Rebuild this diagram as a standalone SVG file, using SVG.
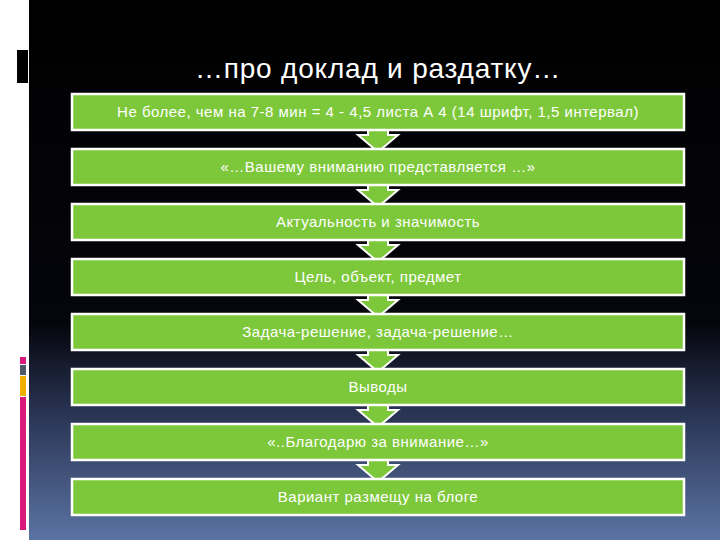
<svg xmlns="http://www.w3.org/2000/svg" width="720" height="540" viewBox="0 0 720 540">
<defs>
<linearGradient id="bg" x1="0" y1="0" x2="0" y2="1">
<stop offset="0" stop-color="#000"/>
<stop offset="0.6" stop-color="#05060c"/>
<stop offset="0.75" stop-color="#26304e"/>
<stop offset="1" stop-color="#5b73a3"/>
</linearGradient>
<style>
.box{fill:#7dc83a;stroke:#fff;stroke-width:2.5}
.t{font-family:"Liberation Sans",Arial,sans-serif;font-size:15px;letter-spacing:0.5px;fill:#fff;text-anchor:middle}
.ar{fill:#7dc83a;stroke:#fff;stroke-width:2}
</style>
</defs>
<rect width="720" height="540" fill="#fff"/>
<rect x="29" y="0" width="691" height="540" fill="url(#bg)"/>
<rect x="17" y="50" width="11" height="33" fill="#000"/>
<rect x="20" y="357" width="6" height="7" fill="#d81b7a"/>
<rect x="20" y="365" width="6" height="10" fill="#4e5a6a"/>
<rect x="20" y="376" width="6" height="20" fill="#f0b000"/>
<rect x="20" y="397" width="6" height="133" fill="#d81b7a"/>
<text x="378" y="78" font-family="Liberation Sans,Arial,sans-serif" font-size="28" letter-spacing="0.8" fill="#fff" text-anchor="middle">…про доклад и раздатку…</text>
<g id="connectors">
<path class="ar" d="M368 130h20v5h10l-20 17l-20-17h10z"/>
<path class="ar" d="M368 185h20v5h10l-20 17l-20-17h10z"/>
<path class="ar" d="M368 240h20v5h10l-20 17l-20-17h10z"/>
<path class="ar" d="M368 295h20v5h10l-20 17l-20-17h10z"/>
<path class="ar" d="M368 350h20v5h10l-20 17l-20-17h10z"/>
<path class="ar" d="M368 405h20v5h10l-20 17l-20-17h10z"/>
<path class="ar" d="M368 460h20v5h10l-20 17l-20-17h10z"/>
</g>
<g id="n1"><rect class="box" x="72" y="94" width="612" height="36"/><text class="t" x="378" y="117">Не более, чем на 7-8 мин = 4 - 4,5 листа А 4 (14 шрифт, 1,5 интервал)</text></g>
<g id="n2"><rect class="box" x="72" y="149" width="612" height="36"/><text class="t" x="378" y="172">«…Вашему вниманию представляется …»</text></g>
<g id="n3"><rect class="box" x="72" y="204" width="612" height="36"/><text class="t" x="378" y="227">Актуальность и значимость</text></g>
<g id="n4"><rect class="box" x="72" y="259" width="612" height="36"/><text class="t" x="378" y="282">Цель, объект, предмет</text></g>
<g id="n5"><rect class="box" x="72" y="314" width="612" height="36"/><text class="t" x="378" y="337">Задача-решение, задача-решение…</text></g>
<g id="n6"><rect class="box" x="72" y="369" width="612" height="36"/><text class="t" x="378" y="392">Выводы</text></g>
<g id="n7"><rect class="box" x="72" y="424" width="612" height="36"/><text class="t" x="378" y="447">«..Благодарю за внимание…»</text></g>
<g id="n8"><rect class="box" x="72" y="479" width="612" height="36"/><text class="t" x="378" y="502">Вариант размещу на блоге</text></g>
</svg>
